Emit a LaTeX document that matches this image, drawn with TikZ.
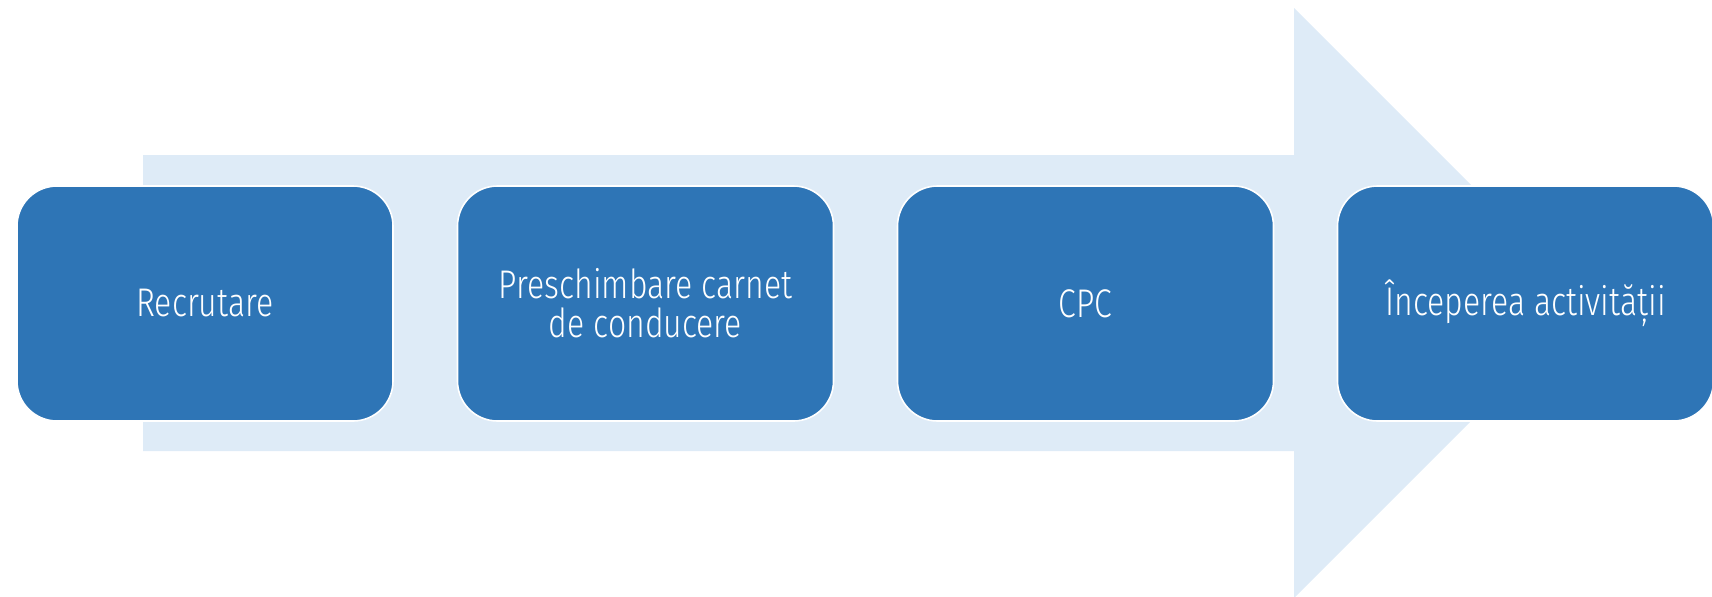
\documentclass[tikz,border=0pt]{standalone}
\usepackage{fontspec}
\setmainfont{Fira Sans Light}[FakeStretch=0.8]
\definecolor{boxblue}{HTML}{2E75B6}
\definecolor{arrowlight}{HTML}{DEEBF7}
\tikzset{
  stepbox/.style={rectangle, rounded corners=20pt, fill=boxblue, draw=white,
    line width=0.8pt, minimum width=188pt, minimum height=117.5pt,
    text=white, align=center, inner sep=0pt,
    font=\fontsize{20}{19.5}\selectfont}
}
\begin{document}
\begin{tikzpicture}[x=0.5pt,y=-0.5pt]
\useasboundingbox (0,0) rectangle (1712,596);
\fill[arrowlight] (143,155) -- (1294,155) -- (1294,8) -- (1589,303)
  -- (1294,598) -- (1294,451) -- (143,451) -- cycle;
\node[stepbox] (b1) at (205,303.5) {Recrutare};
\node[stepbox] (b2) at (645.5,303.5) {Preschimbare carnet\\de conducere};
\node[stepbox] (b3) at (1085.5,303.5) {CPC};
\node[stepbox] (b4) at (1525.5,303.5) {Începerea activității};
\end{tikzpicture}
\end{document}
